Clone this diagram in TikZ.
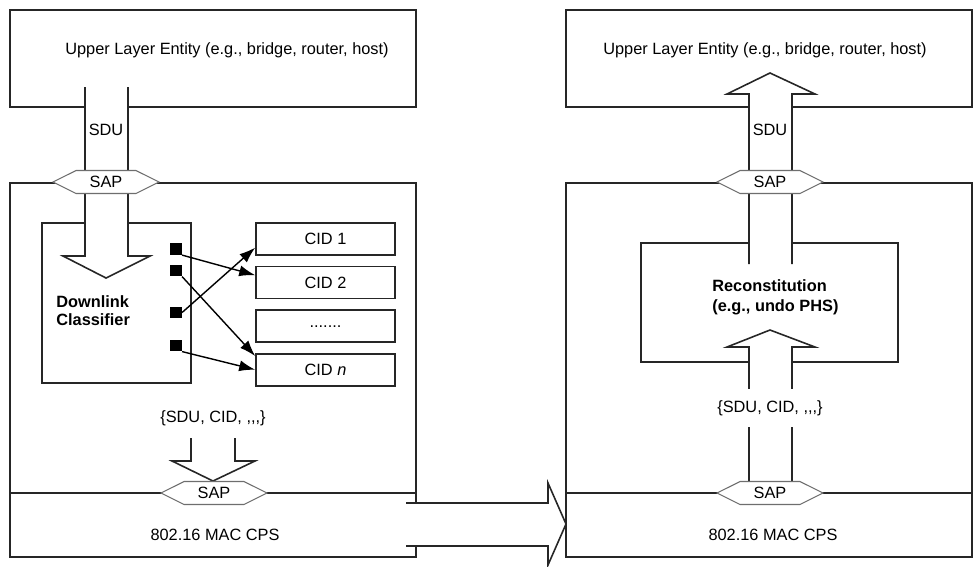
\documentclass[tikz,border=0pt]{standalone}
\usepackage{fontspec}
\setmainfont{Liberation Sans}
\usepackage{tikz}
\usetikzlibrary{arrows.meta,positioning,shapes.symbols,calc}
\definecolor{LineGray}{RGB}{38,38,38}
\definecolor{SapGray}{RGB}{110,110,110}

\begin{document}
\begin{tikzpicture}[
  x=0.02cm, y=-0.02cm,
  layer/.style={
    draw=LineGray,
    line width=0.9pt,
    minimum width=8.12cm,
    inner sep=0pt
  },
  block/.style={
    draw=LineGray,
    line width=0.9pt,
    inner sep=0pt
  },
  cid/.style={
    draw=LineGray,
    line width=0.9pt,
    minimum width=2.78cm,
    minimum height=0.64cm,
    inner sep=0pt
  },
  port/.style={
    fill=black,
    minimum size=0.23cm,
    inner sep=0pt
  },
  sap/.style={
    signal,
    signal to=east and west,
    signal pointer angle=53,
    draw=SapGray,
    fill=white,
    line width=0.6pt,
    minimum width=2.12cm,
    minimum height=0.46cm,
    inner sep=0pt
  },
  fat/.style={draw=LineGray, line width=0.9pt, fill=white, line join=miter},
  arr/.style={-{Latex[length=3.2mm,width=2.2mm]}, draw=black, line width=0.8pt},
  lab/.style={inner sep=1pt},
  bold/.style={inner sep=0pt, align=left, font=\bfseries\fontsize{9.3}{10.3}\selectfont},
  font=\fontsize{9.3}{11.2}\selectfont
]
\useasboundingbox (0,0) rectangle (974,566);

% boxes
\node[layer, minimum height=1.94cm] (uleL) at (213,58.5) {};
\node[layer, minimum height=1.94cm] (uleR) at (769,58.5) {};
\node[layer, minimum height=7.48cm] (macL) at (213,370) {};
\node[layer, minimum height=7.48cm] (macR) at (769,370) {};
\node[block, minimum width=2.98cm, minimum height=3.2cm] (classifier) at (116.5,303) {};
\node[block, minimum width=5.14cm, minimum height=2.38cm] (recon) at (769.5,302.5) {};

\node[cid] (cid1) at (325.5,239) {CID 1};
\node[cid, below=0.2cm of cid1] (cid2) {CID 2};
\node[cid, below=0.2cm of cid2] (cidd) {.......};
\node[cid, below=0.2cm of cidd] (cidn) {CID \textit{n}};

\node[port] (sq1) at (176,249) {};
\node[port] (sq2) at (176,270.5) {};
\node[port] (sq3) at (176,312.5) {};
\node[port] (sq4) at (176,345.5) {};

% SAP lines
\coordinate (sapLL) at (214,493);
\coordinate (sapLR) at (770,493);
\draw[draw=LineGray, line width=0.9pt] (macL.west |- sapLL) -- (macL.east |- sapLL);
\draw[draw=LineGray, line width=0.9pt] (macR.west |- sapLR) -- (macR.east |- sapLR);

% wide arrows
\draw[fat] (85,87) -- (85,256) -- (63,256) -- (106,278) -- (150,256) -- (128,256) -- (128,87);
\draw[fat] (191,438) -- (191,461) -- (172,461) -- (213,481) -- (255,461) -- (235,461) -- (235,438);
\draw[fat] (749,264) -- (749,94) -- (727,94) -- (770,73) -- (815,94) -- (792,94) -- (792,264);
\draw[fat] (749,482) -- (749,347) -- (727,347) -- (770,330) -- (815,347) -- (792,347) -- (792,482);
\draw[fat] (406,503) -- (548,503) -- (548,483) -- (566,524) -- (548,565) -- (548,546) -- (406,546);

% SAPs
\node[sap] (sapUL) at (106,182) {SAP};
\node[sap] (sapUR) at (770,182) {SAP};
\node[sap] (sapDL) at (sapLL) {SAP};
\node[sap] (sapDR) at (sapLR) {SAP};

% texts
\node[lab] (uleLtxt) at (227,50) {Upper Layer Entity (e.g., bridge, router, host)};
\node[lab] (uleRtxt) at (765,50) {Upper Layer Entity (e.g., bridge, router, host)};
\node[lab] (sduL) at (106,130) {SDU};
\node[lab] (sduR) at (770,130) {SDU};
\node[bold, anchor=west] (cltxt) at (56,311) {Downlink\\Classifier};
\node[bold, anchor=west, font=\bfseries\fontsize{9.3}{11.4}\selectfont] (rectxt) at (712,297) {Reconstitution\\(e.g., undo PHS)};
\node[lab] (pduL) at (213,418) {\{SDU, CID, ,{},{},\}};
\node[lab, fill=white, minimum height=0.76cm] (pduR) at (770,408) {\{SDU, CID, ,{},{},\}};
\node[lab] (cpsL) at (215,535) {802.16 MAC CPS};
\node[lab] (cpsR) at (773,535) {802.16 MAC CPS};

\draw[arr] (sq1.south east) -- (cid2.174);
\draw[arr] (sq2.south east) -- (cidn.169);
\draw[arr] (sq3.east) -- (cid1.187);
\draw[arr] (sq4.south east) -- (cidn.west);
\end{tikzpicture}
\end{document}
